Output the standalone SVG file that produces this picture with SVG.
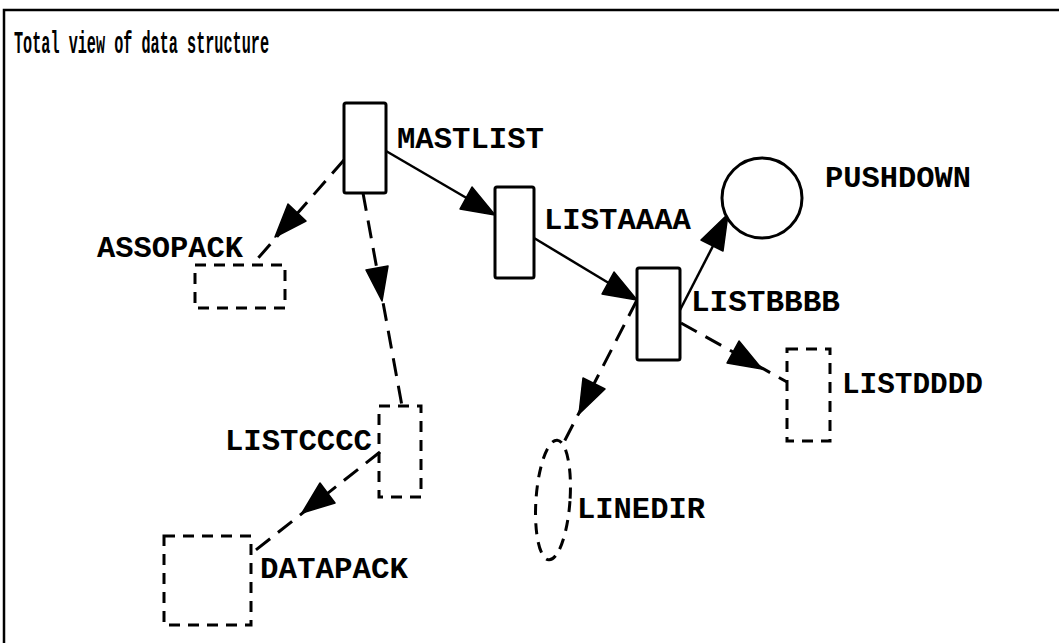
<svg xmlns="http://www.w3.org/2000/svg" width="1059" height="643" viewBox="0 0 1059 643">
<style>
.frame{fill:none;stroke:#000;stroke-width:2.5}
.box{fill:#fff;stroke:#000;stroke-width:3}
.dbox{fill:none;stroke:#000;stroke-width:3;stroke-dasharray:11 8}
.lbl{font-family:"Liberation Mono","DejaVu Sans Mono",monospace;font-weight:bold;font-size:29px;fill:#000}
.title{font-family:"Liberation Mono","DejaVu Sans Mono",monospace;font-weight:bold;font-size:31px;fill:#000}
.solid{stroke:#000;stroke-width:2.5;fill:none}
.dash{stroke:#000;stroke-width:3;fill:none;stroke-dasharray:18 10}
.head{fill:#000;stroke:#000;stroke-width:1.5;stroke-linejoin:round}
</style>
<rect width="1059" height="643" fill="#fff"/>
<path class="frame" d="M4,643 V10 H1059"/>
<text class="title" x="14" y="53" textLength="255" lengthAdjust="spacingAndGlyphs">Total view of data structure</text>

<g id="connectors">
  <g id="c-mastlist-assopack">
    <path class="dash" d="M344,160 L253,264"/>
    <polygon class="head" points="275,237 306,221 288,204"/>
  </g>
  <g id="c-mastlist-listcccc">
    <path class="dash" d="M363,193 L402,406"/>
    <polygon class="head" points="382,301 388,266 366,270"/>
  </g>
  <g id="c-listcccc-datapack">
    <path class="dash" d="M380,452 L252,553"/>
    <polygon class="head" points="302,513 335,503 320,483"/>
  </g>
  <g id="c-mastlist-listaaaa">
    <path class="solid" d="M386,151 L470,200"/>
    <polygon class="head" points="495,215 460,209 472,187"/>
  </g>
  <g id="c-listaaaa-listbbbb">
    <path class="solid" d="M534,238 L612,285"/>
    <polygon class="head" points="637,300 602,294 614,272"/>
  </g>
  <g id="c-listbbbb-pushdown">
    <path class="solid" d="M679,312 L714,244"/>
    <polygon class="head" points="728,214 723,251 701,240"/>
  </g>
  <g id="c-listbbbb-listdddd">
    <path class="dash" d="M681,323 L787,382"/>
    <polygon class="head" points="762,369 727,363 739,341"/>
  </g>
  <g id="c-listbbbb-linedir">
    <path class="dash" d="M637,300 L562,446"/>
    <polygon class="head" points="579,414 605,389 583,378"/>
  </g>
</g>

<g id="MASTLIST">
  <rect class="box" x="344" y="103" width="42" height="90" rx="2"/>
  <text class="lbl" x="397" y="148" textLength="147" lengthAdjust="spacingAndGlyphs">MASTLIST</text>
</g>
<g id="LISTAAAA">
  <rect class="box" x="495" y="187" width="39" height="91" rx="2"/>
  <text class="lbl" x="544" y="229" textLength="147" lengthAdjust="spacingAndGlyphs">LISTAAAA</text>
</g>
<g id="LISTBBBB">
  <rect class="box" x="637" y="268" width="43" height="92" rx="2"/>
  <text class="lbl" x="691" y="311" textLength="149" lengthAdjust="spacingAndGlyphs">LISTBBBB</text>
</g>
<g id="PUSHDOWN">
  <circle class="box" cx="762" cy="198" r="40"/>
  <text class="lbl" x="825" y="187" textLength="146" lengthAdjust="spacingAndGlyphs">PUSHDOWN</text>
</g>
<g id="ASSOPACK">
  <rect class="dbox" x="195" y="265" width="90" height="43"/>
  <text class="lbl" x="97" y="257" textLength="146" lengthAdjust="spacingAndGlyphs">ASSOPACK</text>
</g>
<g id="LISTCCCC">
  <rect class="dbox" x="379" y="406" width="42" height="91"/>
  <text class="lbl" x="225" y="450" textLength="147" lengthAdjust="spacingAndGlyphs">LISTCCCC</text>
</g>
<g id="DATAPACK">
  <rect class="dbox" x="164" y="536" width="87" height="89"/>
  <text class="lbl" x="260" y="578" textLength="148" lengthAdjust="spacingAndGlyphs">DATAPACK</text>
</g>
<g id="LISTDDDD">
  <rect class="dbox" x="787" y="349" width="43" height="92"/>
  <text class="lbl" x="842" y="393" textLength="141" lengthAdjust="spacingAndGlyphs">LISTDDDD</text>
</g>
<g id="LINEDIR">
  <ellipse class="dbox" cx="553" cy="500" rx="17" ry="60" transform="rotate(4 553 500)"/>
  <text class="lbl" x="577" y="518" textLength="128" lengthAdjust="spacingAndGlyphs">LINEDIR</text>
</g>
</svg>
